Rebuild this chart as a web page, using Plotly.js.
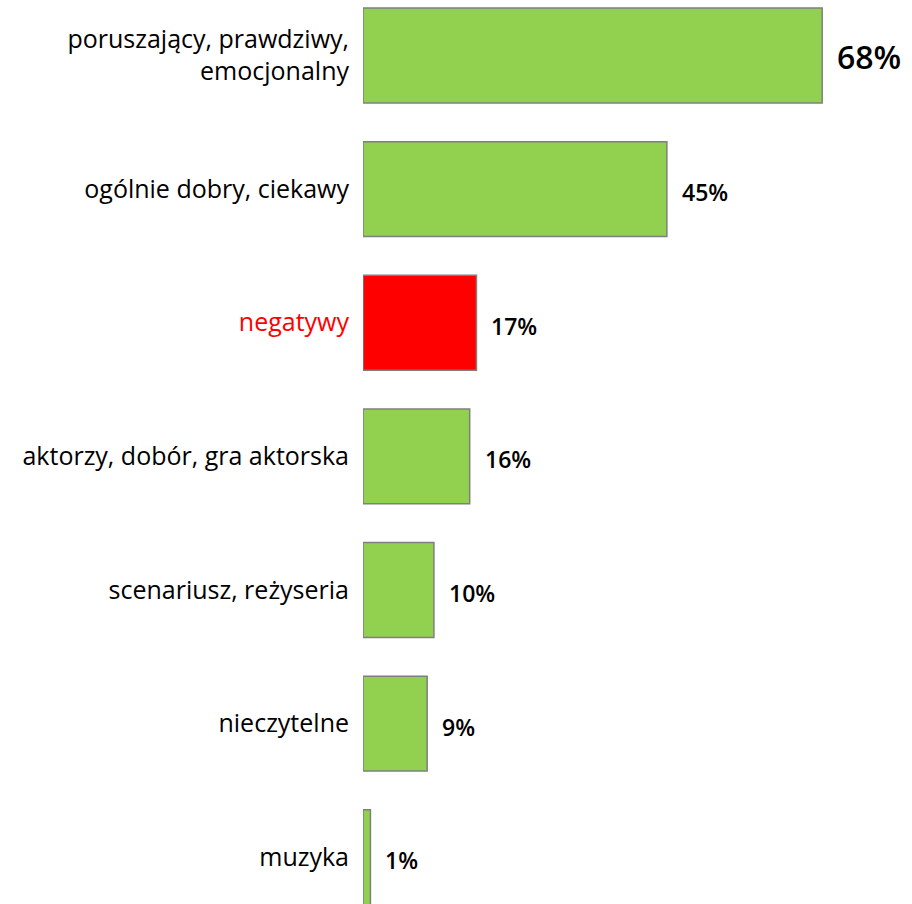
<!DOCTYPE html>
<html>
<head>
<meta charset="utf-8">
<script src="https://cdn.plot.ly/plotly-3.0.1.min.js"></script>
<style>html,body{margin:0;padding:0;background:#fff}</style>
</head>
<body>
<div id="chart" style="width:912px;height:904px"></div>
<script>
const categories = ["poruszający, prawdziwy,<br>emocjonalny", "ogólnie dobry, ciekawy", "negatywy", "aktorzy, dobór, gra aktorska", "scenariusz, reżyseria", "nieczytelne", "muzyka"];
const values = [68, 45, 16.8, 15.8, 10.5, 9.5, 1.1];
const valueLabels = ["68%", "45%", "17%", "16%", "10%", "9%", "1%"];
const barColors = ["#92d050", "#92d050", "#ff0000", "#92d050", "#92d050", "#92d050", "#92d050"];
const tickLabels = ["poruszający, prawdziwy,<br>emocjonalny", "ogólnie dobry, ciekawy", "<span style=\"color:#ff0000\">negatywy</span>", "aktorzy, dobór, gra aktorska", "scenariusz, reżyseria", "nieczytelne", "muzyka"];

const FONT = "'Open Sans', Roboto, sans-serif";

const trace = {
  type: "bar",
  orientation: "h",
  y: categories,
  x: values,
  width: 0.71,
  marker: {color: barColors, line: {color: "#7f7f7f", width: 1.5}},
  hoverinfo: "skip"
};

const annotations = values.map((v, i) => ({
  x: v, y: categories[i], xref: "x", yref: "y",
  text: valueLabels[i],
  showarrow: false, xanchor: "left", yanchor: "middle",
  xshift: 13, yshift: i === 0 ? -1 : -3,
  font: {family: FONT, size: i === 0 ? 32 : 23, color: "#000", weight: 600}
}));

const layout = {
  width: 912, height: 904,
  margin: {l: 363, r: 0, t: 0, b: 0},
  paper_bgcolor: "#fff", plot_bgcolor: "#fff",
  showlegend: false,
  font: {family: FONT, size: 25, color: "#000"},
  xaxis: {range: [0, 81.3], visible: false, fixedrange: true},
  yaxis: {
    type: "category",
    range: [6.35, -0.415],
    tickmode: "array", tickvals: categories, ticktext: tickLabels,
    showgrid: false, zeroline: false, showline: false,
    ticks: "", ticklabelstandoff: 13,
    tickfont: {family: FONT, size: 25, color: "#000", weight: 500},
    automargin: false
  },
  annotations: annotations
};

Plotly.newPlot("chart", [trace], layout, {displayModeBar: false, staticPlot: true});
</script>
</body>
</html>
